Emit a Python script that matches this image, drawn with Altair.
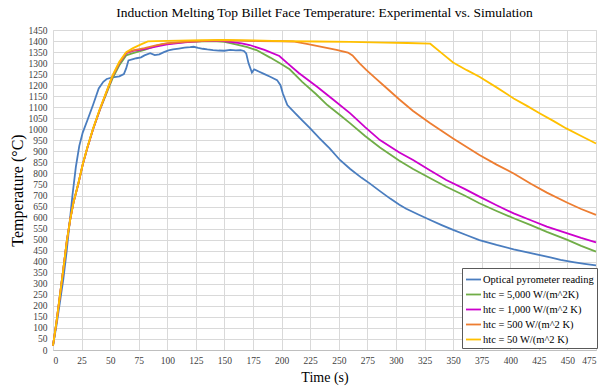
import altair as alt
import pandas as pd

# ---- data ----
series_names = [
    "Optical pyrometer reading",
    "htc = 5,000 W/(m^2K)",
    "htc = 1,000 W/(m^2 K)",
    "htc = 500 W/(m^2 K)",
    "htc = 50 W/(m^2 K)",
]
series_colors = ["#4A7DBF", "#70AD47", "#CC00CC", "#ED7D31", "#FFC000"]

x_ticks = list(range(0, 476, 25))
y_ticks = list(range(0, 1451, 50))

blue_t = [0, 3, 6, 9, 12, 15, 17, 20, 23, 26, 30, 35, 40, 44, 47, 52, 58, 62, 64, 66, 70, 73, 77, 80, 85, 89,
          93, 97, 101, 105, 110, 115, 120, 123, 127, 131, 135, 140, 145, 150, 155, 160, 164, 167, 169, 171,
          174, 176, 180, 185, 190, 196, 199, 201, 205, 212, 218, 225, 233, 242, 251, 260, 270, 277, 286,
          295, 303, 309, 320, 330, 340, 350, 362, 373, 388, 403, 415, 426, 435, 444, 455, 465, 475]
blue_v = [20, 110, 215, 320, 450, 600, 700, 830, 925, 985, 1040, 1110, 1185, 1215, 1228, 1235, 1240, 1250,
          1276, 1312, 1318, 1322, 1326, 1335, 1345, 1336, 1340, 1350, 1358, 1362, 1366, 1370, 1372, 1374,
          1369, 1365, 1362, 1359, 1357, 1356, 1360, 1358, 1359, 1355, 1344, 1300, 1257, 1272, 1262, 1250,
          1238, 1223, 1200, 1163, 1110, 1072, 1040, 1004, 960, 914, 861, 820, 780, 755, 720, 686, 658, 640,
          613, 589, 566, 544, 520, 498, 476, 456, 442, 430, 420, 408, 398, 390, 383]

green_t = [0, 3, 6, 9, 12, 15, 18, 22, 26, 30, 35, 41, 48, 52, 58, 64, 70, 80, 90, 96, 110, 125, 140, 150,
           160, 170, 178, 190, 200, 207, 218, 230, 240, 251, 260, 273, 286, 303, 315, 330, 344, 360, 373,
           388, 403, 418, 432, 450, 462, 475]
green_v = [20, 125, 245, 365, 490, 590, 670, 750, 840, 915, 1000, 1088, 1178, 1230, 1290, 1335, 1345, 1360,
           1378, 1386, 1393, 1398, 1400, 1396, 1385, 1372, 1359, 1325, 1295, 1272, 1215, 1160, 1110, 1065,
           1027, 970, 918, 858, 820, 778, 740, 700, 665, 630, 597, 566, 535, 499, 472, 446]

magenta_t = [0, 3, 6, 9, 12, 15, 18, 22, 26, 30, 35, 41, 48, 52, 58, 64, 70, 80, 90, 100, 115, 130, 145,
             155, 165, 172, 185, 198, 205, 215, 231, 245, 260, 273, 286, 303, 315, 330, 344, 360, 373, 388,
             403, 418, 432, 450, 462, 475]
magenta_v = [20, 125, 245, 365, 490, 590, 670, 750, 840, 915, 1000, 1090, 1185, 1240, 1300, 1345, 1355,
             1363, 1375, 1385, 1394, 1400, 1402, 1396, 1389, 1382, 1360, 1332, 1300, 1255, 1193, 1135, 1072,
             1010, 951, 895, 861, 813, 770, 730, 695, 656, 619, 588, 559, 528, 508, 488]

orange_t = [0, 3, 6, 9, 12, 15, 18, 22, 26, 30, 35, 41, 48, 52, 58, 64, 70, 80, 90, 100, 115, 130, 145,
            160, 180, 200, 210, 222, 235, 248, 258, 262, 268, 274, 282, 290, 303, 315, 330, 350, 373, 388,
            403, 418, 432, 450, 462, 475]
orange_v = [20, 125, 245, 365, 490, 590, 670, 750, 840, 915, 1000, 1090, 1185, 1240, 1302, 1347, 1358,
            1368, 1380, 1390, 1396, 1400, 1403, 1402, 1400, 1399, 1398, 1387, 1373, 1360, 1348, 1335, 1300,
            1269, 1232, 1195, 1135, 1083, 1027, 958, 884, 840, 800, 753, 713, 667, 639, 612]

yellow_t = [0, 3, 6, 9, 12, 15, 18, 22, 26, 30, 35, 41, 48, 52, 58, 64, 70, 77, 83, 90, 110, 130, 150,
            175, 200, 230, 260, 290, 310, 330, 340, 350, 362, 373, 388, 403, 415, 426, 438, 449, 462, 475]
yellow_v = [20, 125, 245, 365, 490, 590, 670, 752, 842, 918, 1003, 1093, 1188, 1243, 1306, 1350, 1368,
            1385, 1398, 1400, 1402, 1404, 1405, 1403, 1400, 1398, 1396, 1393, 1391, 1388, 1345, 1303, 1268,
            1238, 1190, 1140, 1105, 1072, 1037, 1004, 970, 936]

all_t = [blue_t, green_t, magenta_t, orange_t, yellow_t]
all_v = [blue_v, green_v, magenta_v, orange_v, yellow_v]

rows = []
for name, ts, vs in zip(series_names, all_t, all_v):
    for i, (t, v) in enumerate(zip(ts, vs)):
        rows.append({"series": name, "t": t, "T": v, "idx": i})
df = pd.DataFrame(rows)

FONT = "Liberation Serif"

color = alt.Color(
    "series:N",
    scale=alt.Scale(domain=series_names, range=series_colors),
    sort=series_names,
    legend=alt.Legend(
        title=None,
        orient="none",
        legendX=409,
        legendY=238,
        symbolType="stroke",
        symbolSize=225,
        symbolStrokeWidth=1.8,
        labelFont=FONT,
        labelFontSize=10.5,
        labelColor="#000000",
        labelOffset=1,
        rowPadding=1,
        padding=3,
        strokeColor="#595959",
        fillColor="#FFFFFF",
    ),
)

x = alt.X(
    "t:Q",
    scale=alt.Scale(domain=[0, 475], nice=False, zero=False),
    axis=alt.Axis(
        title="Time (s)",
        values=x_ticks,
        format="d",
        labelFont=FONT,
        labelFontSize=9.5,
        labelColor="#404040",
        labelPadding=5,
        ticks=False,
        domainColor="#BFBFBF",
        gridColor="#D9D9D9",
        titleFont=FONT,
        titleFontSize=14,
        titleFontWeight="normal",
        titleColor="#000000",
        titleBaseline="alphabetic",
        titleY=31,
    ),
)
y = alt.Y(
    "T:Q",
    scale=alt.Scale(domain=[0, 1450], nice=False),
    axis=alt.Axis(
        title="Temperature (°C)",
        values=y_ticks,
        format="d",
        labelFont=FONT,
        labelFontSize=9.5,
        labelColor="#404040",
        labelPadding=6,
        ticks=False,
        domain=False,
        gridColor="#D9D9D9",
        titleFont=FONT,
        titleFontSize=16,
        titleFontWeight="normal",
        titleColor="#000000",
        titleBaseline="bottom",
        titleX=-28,
        titleY=160,
    ),
)

base = alt.Chart(df)
layers = []
for name in series_names:
    layers.append(
        base.transform_filter(alt.datum.series == name)
        .mark_line(strokeWidth=1.8)
        .encode(x=x, y=y, color=color, order=alt.Order("idx:Q"))
    )

chart = (
    alt.layer(*layers)
    .properties(
        width=543,
        height=320,
        autosize="none",
        padding={"left": 53, "top": 30, "right": 7, "bottom": 37},
        title=alt.TitleParams(
            text="Induction Melting Top Billet Face Temperature: Experimental vs. Simulation",
            font=FONT,
            fontSize=13.5,
            fontWeight="normal",
            color="#000000",
            anchor="middle",
            offset=6,
        ),
    )
    .configure_axis(labelFont=FONT, titleFont=FONT)
    .configure_legend(labelFont=FONT)
    .configure_view(stroke=None)
    .configure(background="#FFFFFF")
)

chart.save("out.html", embed_options={"renderer": "svg", "actions": False})
